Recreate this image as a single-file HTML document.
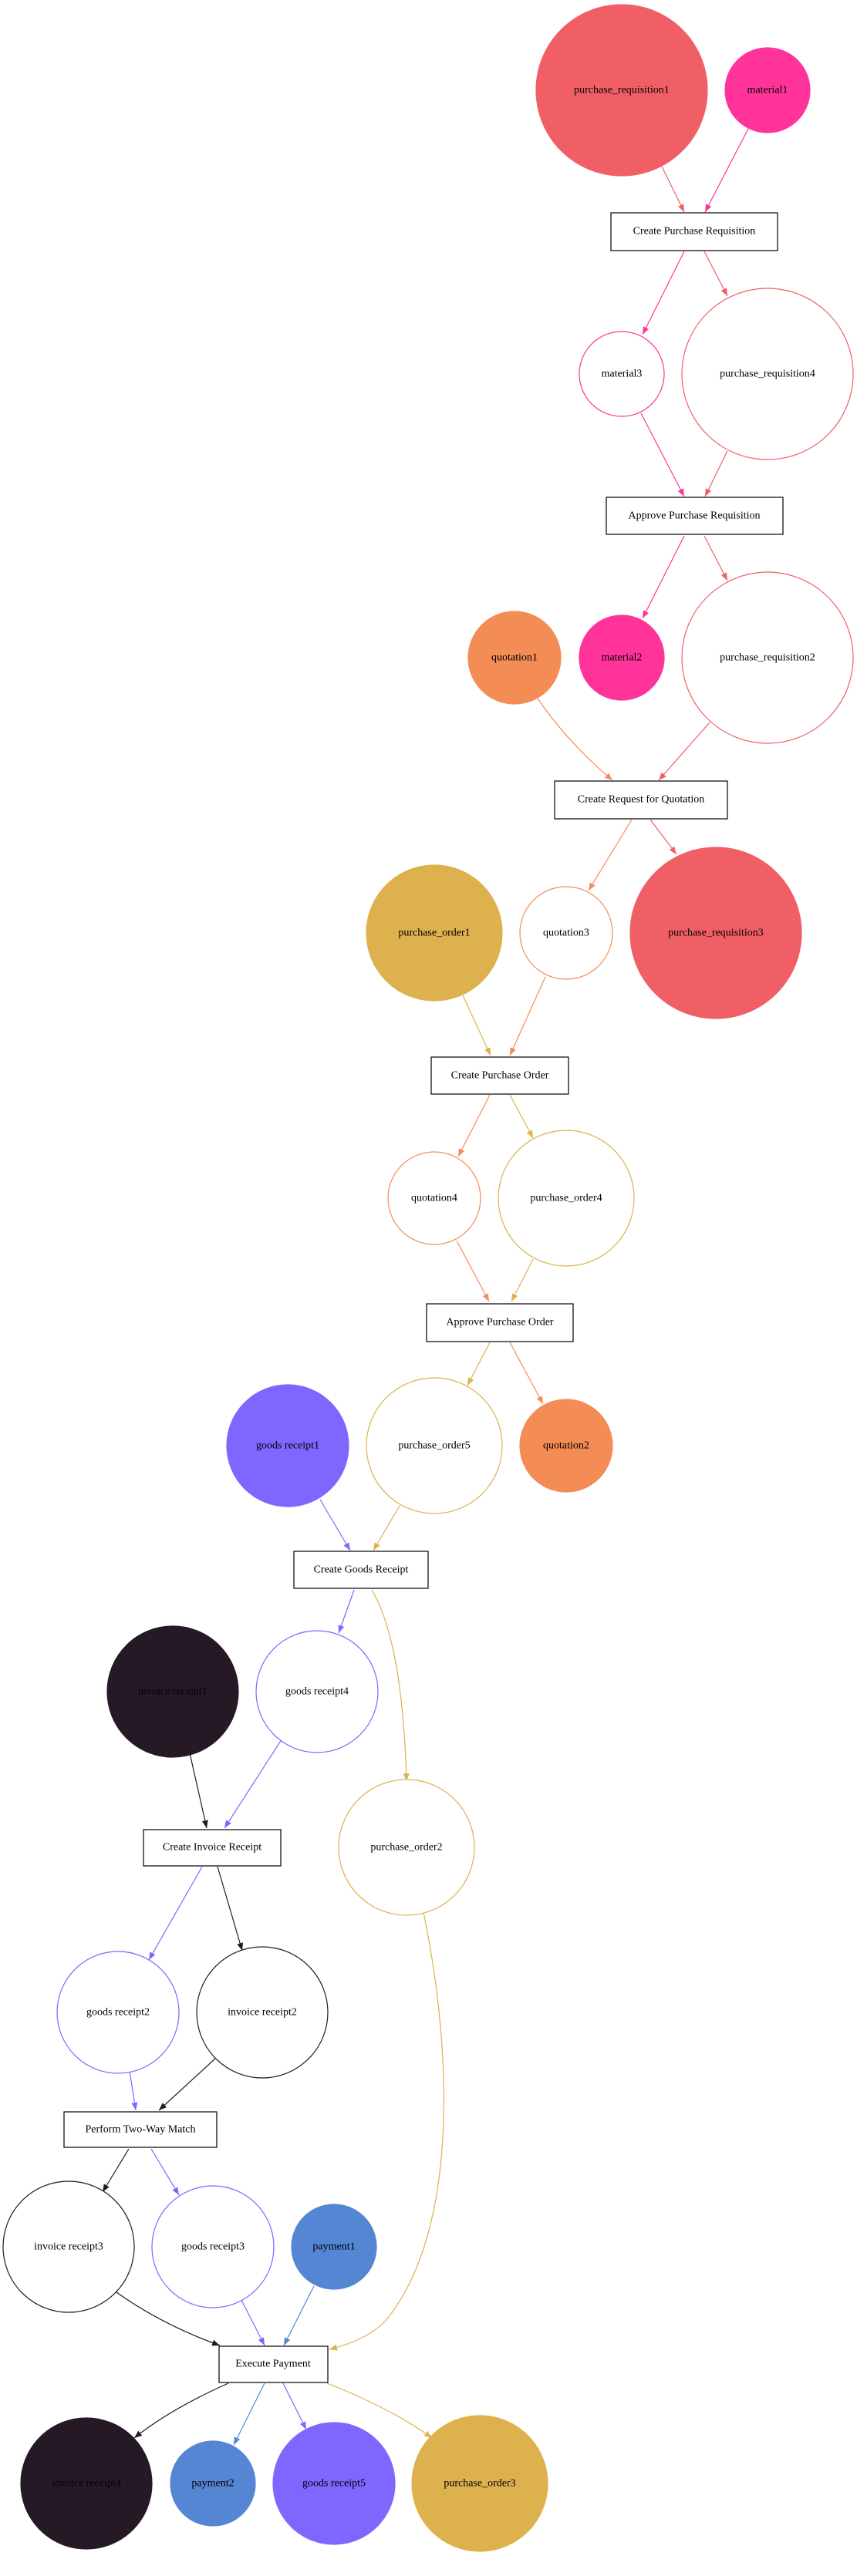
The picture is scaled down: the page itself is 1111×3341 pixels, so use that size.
<!DOCTYPE html>
<html><head><meta charset="utf-8"><style>
html,body{margin:0;padding:0;background:#fff;}
svg{display:block;}
text{font-family:"Liberation Serif",serif;font-size:14px;text-anchor:middle;dominant-baseline:central;fill:#000;}
</style></head><body>
<svg width="1111" height="3341" viewBox="0 0 1111 3341" xmlns="http://www.w3.org/2000/svg">
<defs>
<marker id="ar" markerWidth="10" markerHeight="8" refX="10" refY="4" orient="auto" markerUnits="userSpaceOnUse"><path d="M0,0L10,4L0,8z" fill="#f05f66"/></marker>
<marker id="ap" markerWidth="10" markerHeight="8" refX="10" refY="4" orient="auto" markerUnits="userSpaceOnUse"><path d="M0,0L10,4L0,8z" fill="#ff3399"/></marker>
<marker id="ao" markerWidth="10" markerHeight="8" refX="10" refY="4" orient="auto" markerUnits="userSpaceOnUse"><path d="M0,0L10,4L0,8z" fill="#f48c56"/></marker>
<marker id="ag" markerWidth="10" markerHeight="8" refX="10" refY="4" orient="auto" markerUnits="userSpaceOnUse"><path d="M0,0L10,4L0,8z" fill="#ddb14e"/></marker>
<marker id="au" markerWidth="10" markerHeight="8" refX="10" refY="4" orient="auto" markerUnits="userSpaceOnUse"><path d="M0,0L10,4L0,8z" fill="#7f66ff"/></marker>
<marker id="ad" markerWidth="10" markerHeight="8" refX="10" refY="4" orient="auto" markerUnits="userSpaceOnUse"><path d="M0,0L10,4L0,8z" fill="#261926"/></marker>
<marker id="ab" markerWidth="10" markerHeight="8" refX="10" refY="4" orient="auto" markerUnits="userSpaceOnUse"><path d="M0,0L10,4L0,8z" fill="#5586d4"/></marker>
</defs>
<g fill="none" stroke-width="1.2">
<path d="M858,216L887,275" stroke="#f05f66" marker-end="url(#ar)"/>
<path d="M970,167L914,275" stroke="#ff3399" marker-end="url(#ap)"/>
<path d="M887,326L833,434" stroke="#ff3399" marker-end="url(#ap)"/>
<path d="M913,326L943,384" stroke="#f05f66" marker-end="url(#ar)"/>
<path d="M831,536L887,644" stroke="#ff3399" marker-end="url(#ap)"/>
<path d="M943,585L914,644" stroke="#f05f66" marker-end="url(#ar)"/>
<path d="M887,695L833,802" stroke="#ff3399" marker-end="url(#ap)"/>
<path d="M913,695L943,753" stroke="#f05f66" marker-end="url(#ar)"/>
<path d="M697,906Q737,964 794,1012" stroke="#f48c56" marker-end="url(#ao)"/>
<path d="M920,937L854,1012" stroke="#f05f66" marker-end="url(#ar)"/>
<path d="M819,1063L763,1155" stroke="#f48c56" marker-end="url(#ao)"/>
<path d="M843,1063L877,1108" stroke="#f05f66" marker-end="url(#ar)"/>
<path d="M600,1291L636,1369" stroke="#ddb14e" marker-end="url(#ag)"/>
<path d="M707,1267L661,1369" stroke="#f48c56" marker-end="url(#ao)"/>
<path d="M635,1420L594,1500" stroke="#f48c56" marker-end="url(#ao)"/>
<path d="M661,1420L691,1476" stroke="#ddb14e" marker-end="url(#ag)"/>
<path d="M592,1609L634,1688" stroke="#f48c56" marker-end="url(#ao)"/>
<path d="M691,1633L663,1688" stroke="#ddb14e" marker-end="url(#ag)"/>
<path d="M635,1741L606,1797" stroke="#ddb14e" marker-end="url(#ag)"/>
<path d="M661,1741L704,1821" stroke="#f48c56" marker-end="url(#ao)"/>
<path d="M415,1945L454,2011" stroke="#7f66ff" marker-end="url(#au)"/>
<path d="M518,1953L484,2011" stroke="#ddb14e" marker-end="url(#ag)"/>
<path d="M459,2062L439,2118" stroke="#7f66ff" marker-end="url(#au)"/>
<path d="M482,2062Q522,2130 527,2310" stroke="#ddb14e" marker-end="url(#ag)"/>
<path d="M244,2265L268,2371" stroke="#261926" marker-end="url(#ad)"/>
<path d="M369,2250L291,2371" stroke="#7f66ff" marker-end="url(#au)"/>
<path d="M262,2421L193,2542" stroke="#7f66ff" marker-end="url(#au)"/>
<path d="M282,2421L314,2530" stroke="#261926" marker-end="url(#ad)"/>
<path d="M168,2686L176,2737" stroke="#7f66ff" marker-end="url(#au)"/>
<path d="M280,2669L206,2737" stroke="#261926" marker-end="url(#ad)"/>
<path d="M167,2787L133,2843" stroke="#261926" marker-end="url(#ad)"/>
<path d="M196,2787L232,2847" stroke="#7f66ff" marker-end="url(#au)"/>
<path d="M151,2973Q210,3015 285,3042" stroke="#261926" marker-end="url(#ad)"/>
<path d="M313,2983L343,3042" stroke="#7f66ff" marker-end="url(#au)"/>
<path d="M407,2965L368,3042" stroke="#5586d4" marker-end="url(#ab)"/>
<path d="M549,2480C590,2680 590,2900 500,3010C480,3030 455,3040 427,3047" stroke="#ddb14e" marker-end="url(#ag)"/>
<path d="M296,3091Q220,3125 174,3162" stroke="#261926" marker-end="url(#ad)"/>
<path d="M343,3091L303,3171" stroke="#5586d4" marker-end="url(#ab)"/>
<path d="M367,3091L397,3151" stroke="#7f66ff" marker-end="url(#au)"/>
<path d="M424,3091Q510,3125 560,3162" stroke="#ddb14e" marker-end="url(#ag)"/>
</g>
<!-- nodes -->
<g stroke-width="1.2">
<circle cx="806" cy="117" r="111" fill="#f05f66" stroke="#f05f66"/><text x="806" y="117">purchase_requisition1</text>
<circle cx="995" cy="117" r="55" fill="#ff3399" stroke="#ff3399"/><text x="995" y="117">material1</text>
<rect x="792" y="276" width="216" height="49" fill="#fff" stroke="#000"/><text x="900" y="300">Create Purchase Requisition</text>
<circle cx="806" cy="485" r="55" fill="#fff" stroke="#ff3399"/><text x="806" y="485">material3</text>
<circle cx="995" cy="485" r="111" fill="#fff" stroke="#f05f66"/><text x="995" y="485">purchase_requisition4</text>
<rect x="786" y="645" width="229" height="48" fill="#fff" stroke="#000"/><text x="900" y="669">Approve Purchase Requisition</text>
<circle cx="667" cy="853" r="60" fill="#f48c56" stroke="#f48c56"/><text x="667" y="853">quotation1</text>
<circle cx="806" cy="853" r="55" fill="#ff3399" stroke="#ff3399"/><text x="806" y="853">material2</text>
<circle cx="995" cy="853" r="111" fill="#fff" stroke="#f05f66"/><text x="995" y="853">purchase_requisition2</text>
<rect x="719" y="1013" width="224" height="49" fill="#fff" stroke="#000"/><text x="831" y="1037">Create Request for Quotation</text>
<circle cx="563" cy="1210" r="88" fill="#ddb14e" stroke="#ddb14e"/><text x="563" y="1210">purchase_order1</text>
<circle cx="734" cy="1210" r="60" fill="#fff" stroke="#f48c56"/><text x="734" y="1210">quotation3</text>
<circle cx="928" cy="1210" r="111" fill="#f05f66" stroke="#f05f66"/><text x="928" y="1210">purchase_requisition3</text>
<rect x="559" y="1371" width="178" height="48" fill="#fff" stroke="#000"/><text x="648" y="1395">Create Purchase Order</text>
<circle cx="563" cy="1554" r="60" fill="#fff" stroke="#f48c56"/><text x="563" y="1554">quotation4</text>
<circle cx="734" cy="1554" r="88" fill="#fff" stroke="#ddb14e"/><text x="734" y="1554">purchase_order4</text>
<rect x="553" y="1691" width="190" height="49" fill="#fff" stroke="#000"/><text x="648" y="1715">Approve Purchase Order</text>
<circle cx="373" cy="1875" r="79" fill="#7f66ff" stroke="#7f66ff"/><text x="373" y="1875">goods receipt1</text>
<circle cx="563" cy="1875" r="88" fill="#fff" stroke="#ddb14e"/><text x="563" y="1875">purchase_order5</text>
<circle cx="734" cy="1875" r="60" fill="#f48c56" stroke="#f48c56"/><text x="734" y="1875">quotation2</text>
<rect x="381" y="2012" width="174" height="48" fill="#fff" stroke="#000"/><text x="468" y="2036">Create Goods Receipt</text>
<circle cx="224" cy="2194" r="85" fill="#261926" stroke="#261926"/><text x="224" y="2194">invoice receipt1</text>
<circle cx="411" cy="2194" r="79" fill="#fff" stroke="#7f66ff"/><text x="411" y="2194">goods receipt4</text>
<rect x="186" y="2373" width="178" height="47" fill="#fff" stroke="#000"/><text x="275" y="2396">Create Invoice Receipt</text>
<circle cx="527" cy="2396" r="88" fill="#fff" stroke="#ddb14e"/><text x="527" y="2396">purchase_order2</text>
<circle cx="153" cy="2610" r="79" fill="#fff" stroke="#7f66ff"/><text x="153" y="2610">goods receipt2</text>
<circle cx="340" cy="2610" r="85" fill="#fff" stroke="#261926"/><text x="340" y="2610">invoice receipt2</text>
<rect x="83" y="2739" width="198" height="46" fill="#fff" stroke="#000"/><text x="182" y="2762">Perform Two-Way Match</text>
<circle cx="89" cy="2914" r="85" fill="#fff" stroke="#261926"/><text x="89" y="2914">invoice receipt3</text>
<circle cx="276" cy="2914" r="79" fill="#fff" stroke="#7f66ff"/><text x="276" y="2914">goods receipt3</text>
<circle cx="433" cy="2914" r="55" fill="#5586d4" stroke="#5586d4"/><text x="433" y="2914">payment1</text>
<rect x="284" y="3043" width="141" height="47" fill="#fff" stroke="#000"/><text x="354" y="3066">Execute Payment</text>
<circle cx="112" cy="3221" r="85" fill="#261926" stroke="#261926"/><text x="112" y="3221">invoice receipt4</text>
<circle cx="276" cy="3221" r="55" fill="#5586d4" stroke="#5586d4"/><text x="276" y="3221">payment2</text>
<circle cx="433" cy="3221" r="79" fill="#7f66ff" stroke="#7f66ff"/><text x="433" y="3221">goods receipt5</text>
<circle cx="622" cy="3221" r="88" fill="#ddb14e" stroke="#ddb14e"/><text x="622" y="3221">purchase_order3</text>
</g>
</svg>
</body></html>
